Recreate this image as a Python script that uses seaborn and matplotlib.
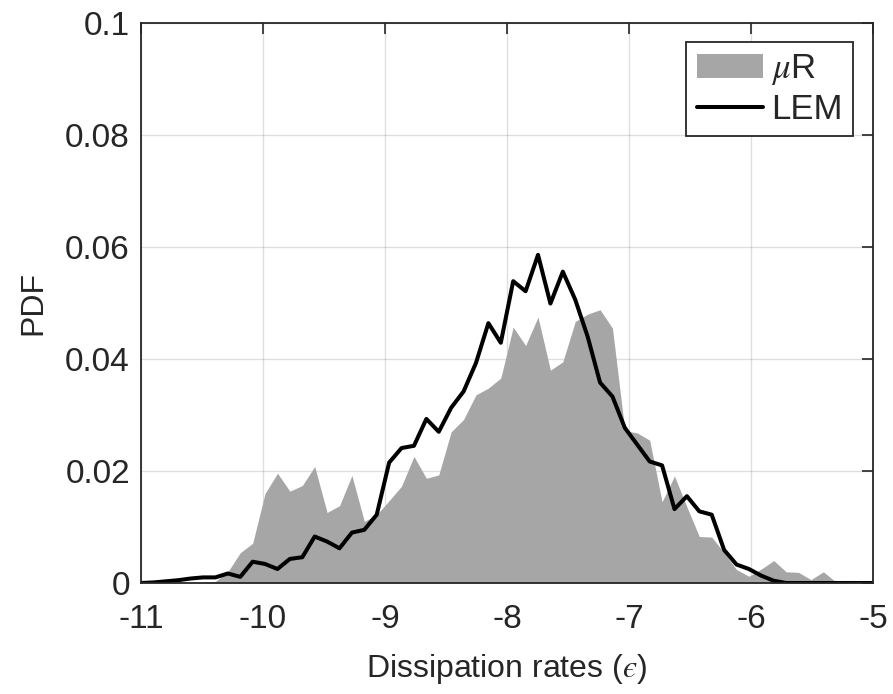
import numpy as np
import pandas as pd
import matplotlib
matplotlib.use("Agg")
import matplotlib.pyplot as plt
import seaborn as sns

# ---- data ----
x_centers = np.linspace(-11, -5, 60)

mu_R = [0, 0, 0, 0, 0, 0, 0.0003, 0.0020, 0.0054, 0.0071,
        0.0160, 0.0196, 0.0164, 0.0174, 0.0208, 0.0126, 0.0138, 0.0192, 0.0110, 0.0122,
        0.0147, 0.0173, 0.0226, 0.0187, 0.0193, 0.0270, 0.0292, 0.0336, 0.0348, 0.0366,
        0.0457, 0.0424, 0.0475, 0.0380, 0.0395, 0.0467, 0.0480, 0.0488, 0.0455, 0.0272,
        0.0268, 0.0255, 0.0145, 0.0191, 0.0136, 0.0083, 0.0082, 0.0054, 0.0024, 0.0012,
        0.0025, 0.0040, 0.0020, 0.0019, 0.0006, 0.0020, 0.0002, 0, 0, 0]

lem = [0.0000, 0.0001, 0.0003, 0.0005, 0.0008, 0.0010, 0.0010, 0.0017, 0.0011, 0.0038,
       0.0034, 0.0025, 0.0043, 0.0046, 0.0083, 0.0074, 0.0062, 0.0090, 0.0095, 0.0122,
       0.0215, 0.0241, 0.0245, 0.0293, 0.0270, 0.0313, 0.0342, 0.0393, 0.0464, 0.0429,
       0.0539, 0.0521, 0.0586, 0.0499, 0.0556, 0.0506, 0.0440, 0.0358, 0.0333, 0.0277,
       0.0247, 0.0217, 0.0210, 0.0132, 0.0155, 0.0128, 0.0122, 0.0059, 0.0033, 0.0025,
       0.0013, 0.0004, 0, 0, 0, 0, 0, 0, 0, 0]

x_ticks = [-11, -10, -9, -8, -7, -6, -5]
x_tick_labels = ["-11", "-10", "-9", "-8", "-7", "-6", "-5"]
y_ticks = [0, 0.02, 0.04, 0.06, 0.08, 0.1]
y_tick_labels = ["0", "0.02", "0.04", "0.06", "0.08", "0.1"]

df = pd.DataFrame({"x": x_centers, "muR": mu_R, "LEM": lem})

# ---- style ----
sns.set_theme(style="white")
plt.rcParams["font.family"] = ["Liberation Sans", "DejaVu Sans"]
plt.rcParams["mathtext.fontset"] = "stix"
plt.rcParams["axes.unicode_minus"] = False

ink = "#262626"
fig = plt.figure(figsize=(8.93, 6.94), dpi=100)
ax = fig.add_axes([141 / 893, 1 - 583 / 694, (873 - 141) / 893, (583 - 23) / 694])

ax.fill_between(df["x"], 0, df["muR"], color="#a6a6a6", linewidth=0,
                label=r"$\mu$R", zorder=2)
sns.lineplot(data=df, x="x", y="LEM", color="black", linewidth=2.9,
             ax=ax, label="LEM", zorder=3)

ax.set_xlim(-11, -5)
ax.set_ylim(0, 0.1)
ax.set_xticks(x_ticks)
ax.set_xticklabels(x_tick_labels)
ax.set_yticks(y_ticks)
ax.set_yticklabels(y_tick_labels)

ax.grid(True, color=ink, alpha=0.15, linewidth=1.0, zorder=0)
ax.set_axisbelow(True)
ax.tick_params(axis="both", direction="in", length=8, width=1.2,
               top=True, right=True, colors=ink, labelsize=24)
ax.tick_params(axis="x", pad=15)
ax.tick_params(axis="y", pad=8)
for s in ax.spines.values():
    s.set_visible(True)
    s.set_color(ink)
    s.set_linewidth(1.3)
    s.set_zorder(5)

ax.set_xlabel("Dissipation rates ($\u03f5$)", fontsize=23, color=ink, labelpad=12)
ax.set_ylabel("PDF", fontsize=23, color=ink, labelpad=12)

leg = ax.legend(loc="upper right", bbox_to_anchor=(0.973, 0.966), borderaxespad=0,
                fontsize=25, frameon=True, fancybox=False, edgecolor=ink,
                framealpha=1, handlelength=1.9, handletextpad=0.25,
                borderpad=0.3, labelspacing=0.15)
leg.get_frame().set_linewidth(1.3)

fig.savefig("out.png", dpi=100)
